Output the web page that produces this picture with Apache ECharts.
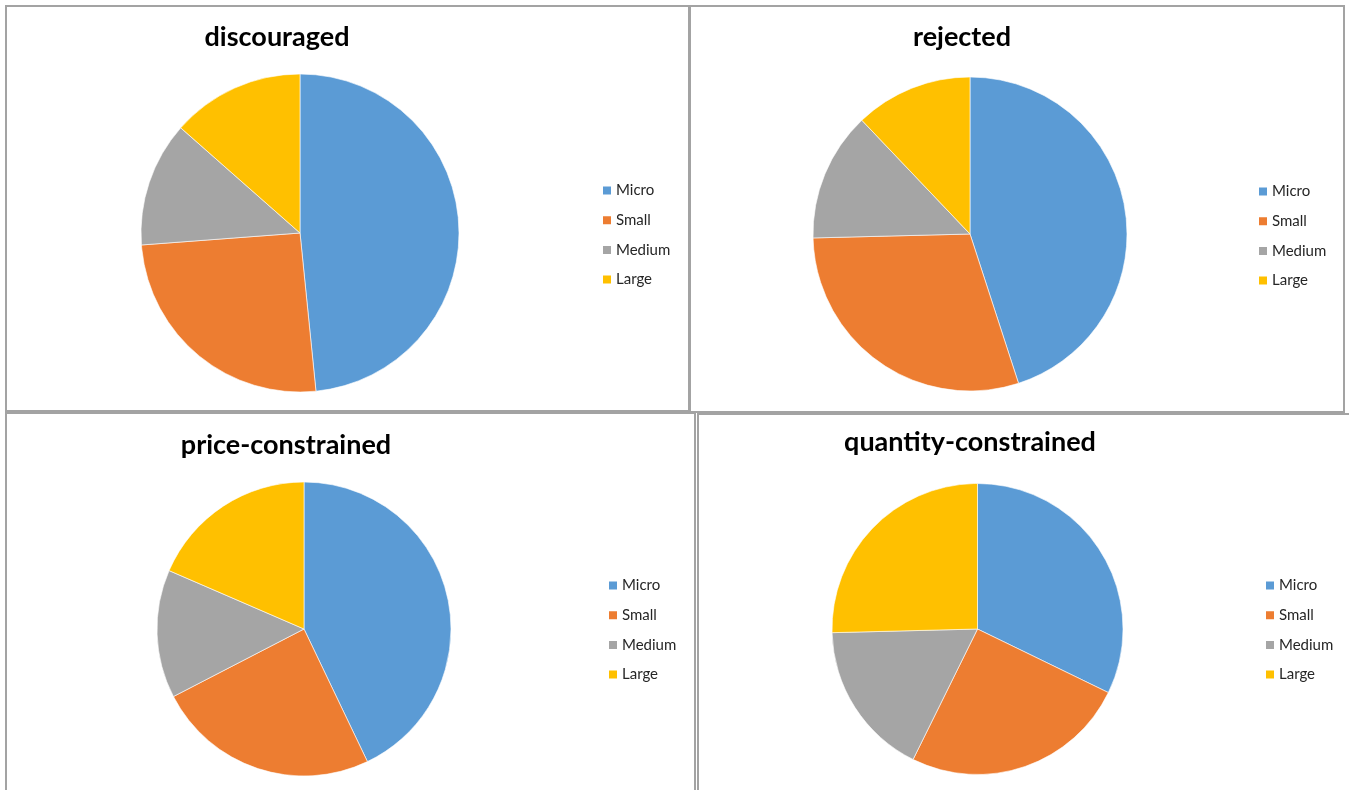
<!DOCTYPE html>
<html>
<head>
<meta charset="utf-8">
<script src="https://cdn.jsdelivr.net/npm/echarts@6/dist/echarts.min.js"></script>
<style>
  html, body { margin: 0; padding: 0; background: #fff; }
  #chart { width: 1349px; height: 790px; }
</style>
</head>
<body>
<div id="chart"></div>
<script>
// Firm size classes and the share of each in four credit-constraint groups (%)
const sizes = ['Micro', 'Small', 'Medium', 'Large'];
const discouraged = [48.4, 25.4, 12.7, 13.5];
const rejected = [45.0, 29.6, 13.3, 12.1];
const priceConstrained = [42.9, 24.5, 14.1, 18.5];
const quantityConstrained = [32.2, 25.1, 17.3, 25.4];
const panelTitles = ['discouraged', 'rejected', 'price-constrained', 'quantity-constrained'];

const colors = ['#5B9BD5', '#ED7D31', '#A5A5A5', '#FFC000'];
const FONT = 'Lato, "Open Sans", sans-serif';

// Layout of the four panels
const panels = [
  { frame: [6, 6, 683, 405], center: [300, 233], r: 159, title: [272, 19], legend: [596, 178] },
  { frame: [690, 6, 654, 406], center: [970, 234], r: 157, title: [957, 19], legend: [1252, 179] },
  { frame: [6, 413, 689, 420], center: [304, 629], r: 147, title: [281, 427], legend: [602, 573] },
  { frame: [698, 414, 700, 420], center: [977.5, 629], r: 145.5, title: [965, 424], legend: [1259, 573] }
];
const values = [discouraged, rejected, priceConstrained, quantityConstrained];

const chart = echarts.init(document.getElementById('chart'), null, { renderer: 'canvas' });

chart.setOption({
  animation: false,
  color: colors,
  title: panels.map((p, i) => ({
    text: panelTitles[i],
    left: p.title[0],
    top: p.title[1],
    textAlign: 'center',
    textStyle: { fontFamily: FONT, fontWeight: 'bold', fontSize: 27, color: '#000' }
  })),
  legend: panels.map((p) => ({
    data: sizes,
    orient: 'vertical',
    left: p.legend[0],
    top: p.legend[1],
    icon: 'rect',
    itemWidth: 10,
    itemHeight: 10,
    itemGap: 14.7,
    selectedMode: false,
    textStyle: { fontFamily: FONT, fontSize: 15, color: '#262626', lineHeight: 15, padding: [0, 0, 0, -1] }
  })),
  graphic: panels.map((p) => ({
    type: 'rect',
    shape: { x: p.frame[0], y: p.frame[1], width: p.frame[2], height: p.frame[3] },
    style: { fill: 'none', stroke: '#a3a3a3', lineWidth: 2 },
    silent: true,
    z: 100
  })),
  series: panels.map((p, i) => ({
    type: 'pie',
    center: p.center,
    radius: p.r,
    startAngle: 90,
    clockwise: true,
    label: { show: false },
    labelLine: { show: false },
    emphasis: { disabled: true },
    itemStyle: { borderColor: '#fff', borderWidth: 0.6 },
    data: sizes.map((s, k) => ({ name: s, value: values[i][k] }))
  }))
});
</script>
</body>
</html>
